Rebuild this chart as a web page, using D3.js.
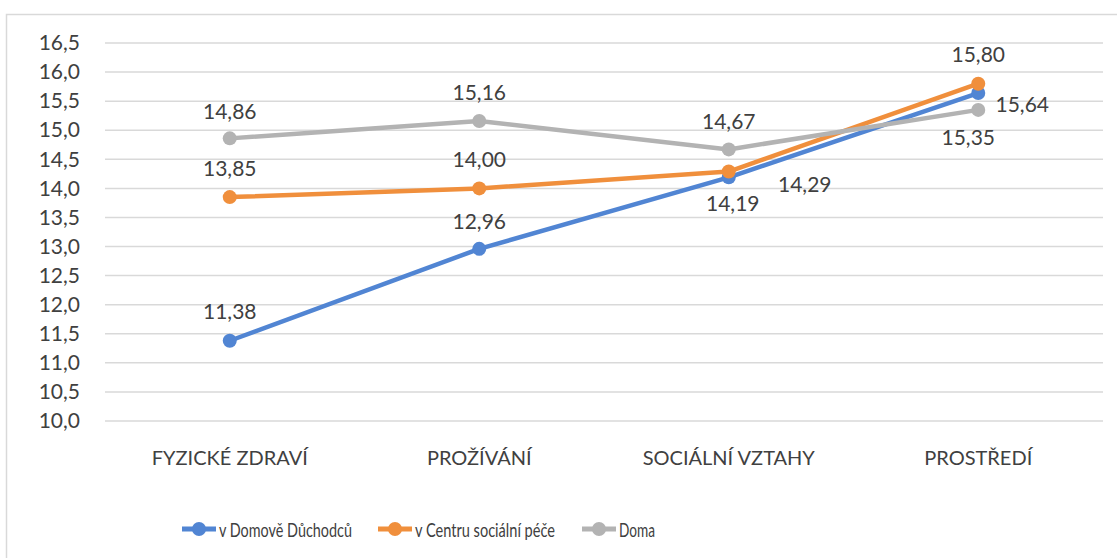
<!DOCTYPE html>
<html>
<head>
<meta charset="utf-8">
<script src="https://cdn.jsdelivr.net/npm/d3@7"></script>
<style>
  body { margin: 0; background: #fff; }
  text { font-family: Lato, "Open Sans", sans-serif; fill: #404040; }
</style>
</head>
<body>
<svg id="chart" width="1117" height="558"></svg>
<script>
// data
var categories = ["FYZICKÉ ZDRAVÍ", "PROŽÍVÁNÍ", "SOCIÁLNÍ VZTAHY", "PROSTŘEDÍ"];
var seriesNames = ["v Domově Důchodců", "v Centru sociální péče", "Doma"];
var domovValues = [11.38, 12.96, 14.19, 15.64];
var centrumValues = [13.85, 14.00, 14.29, 15.80];
var domaValues = [14.86, 15.16, 14.67, 15.35];
var yTicks = [10.0, 10.5, 11.0, 11.5, 12.0, 12.5, 13.0, 13.5, 14.0, 14.5, 15.0, 15.5, 16.0, 16.5];

// label placement per point [dx, dy] (style only)
var domovLabelPos = [[0, -30], [0, -28], [4, 25], [44, 10]];
var centrumLabelPos = [[0, -30], [0, -30], [76, 12], [0, -30]];
var domaLabelPos = [[0, -28], [0, -29], [0, -29], [-10, 27]];

var colors = ["#5185d3", "#f08f3c", "#b3b3b3"];

var svg = d3.select("#chart");

// outer frame
svg.append("rect")
  .attr("x", 6.5).attr("y", 14.5)
  .attr("width", 1130).attr("height", 560)
  .attr("fill", "none")
  .attr("stroke", "#d9d9d9")
  .attr("stroke-width", 1.5);

var x = d3.scaleBand().domain(categories).range([105, 1103]);
var y = d3.scaleLinear().domain([10, 16.5]).range([421, 43]);
var fmt = function(v) { return d3.format(".2f")(v).replace(".", ","); };

// gridlines
svg.append("g")
  .selectAll("line")
  .data(yTicks)
  .enter().append("line")
  .attr("x1", 105).attr("x2", 1103)
  .attr("y1", function(d) { return y(d); })
  .attr("y2", function(d) { return y(d); })
  .attr("stroke", "#d9d9d9")
  .attr("stroke-width", 1.5);

// y axis labels
var yAxis = d3.axisLeft(y).tickValues(yTicks)
  .tickFormat(function(d) { return d3.format(".1f")(d).replace(".", ","); })
  .tickSize(0).tickPadding(0);
var yg = svg.append("g").attr("transform", "translate(80,0)").call(yAxis);
yg.select(".domain").remove();
yg.selectAll("text")
  .attr("font-size", 21)
  .attr("font-family", "Lato, 'Open Sans', sans-serif")
  .attr("fill", "#404040");

// x axis labels
var xAxis = d3.axisBottom(x).tickSize(0).tickPadding(0);
var xg = svg.append("g").attr("transform", "translate(0,451)").call(xAxis);
xg.select(".domain").remove();
xg.selectAll("text")
  .attr("font-size", 20)
  .attr("font-family", "Lato, 'Open Sans', sans-serif")
  .attr("fill", "#404040");

var series = [
  { name: seriesNames[0], values: domovValues, pos: domovLabelPos, color: colors[0] },
  { name: seriesNames[1], values: centrumValues, pos: centrumLabelPos, color: colors[1] },
  { name: seriesNames[2], values: domaValues, pos: domaLabelPos, color: colors[2] }
];

var cx = function(i) { return x(categories[i]) + x.bandwidth() / 2; };

var line = d3.line()
  .x(function(d, i) { return cx(i); })
  .y(function(d) { return y(d); });

series.forEach(function(s) {
  var g = svg.append("g");
  g.append("path")
    .datum(s.values)
    .attr("d", line)
    .attr("fill", "none")
    .attr("stroke", s.color)
    .attr("stroke-width", 4.5)
    .attr("stroke-linejoin", "round");
  g.selectAll("circle")
    .data(s.values)
    .enter().append("circle")
    .attr("cx", function(d, i) { return cx(i); })
    .attr("cy", function(d) { return y(d); })
    .attr("r", 7)
    .attr("fill", s.color);
});

// data labels
series.forEach(function(s) {
  svg.append("g")
    .selectAll("text")
    .data(s.values)
    .enter().append("text")
    .attr("x", function(d, i) { return cx(i) + s.pos[i][0]; })
    .attr("y", function(d, i) { return y(d) + s.pos[i][1]; })
    .attr("text-anchor", "middle")
    .attr("dominant-baseline", "central")
    .attr("font-size", 21)
    .text(function(d) { return fmt(d); });
});

// legend (Calibri-like narrow text, squeezed to the reference widths)
var legendX = [182, 378, 582];
var legendTextW = [133, 140, 36];
var legend = svg.append("g");
series.forEach(function(s, i) {
  var lg = legend.append("g").attr("transform", "translate(" + legendX[i] + ",529)");
  lg.append("line")
    .attr("x1", 0).attr("x2", 34)
    .attr("stroke", s.color).attr("stroke-width", 5);
  lg.append("circle").attr("cx", 17).attr("r", 7).attr("fill", s.color);
  lg.append("text")
    .attr("x", 37)
    .attr("dominant-baseline", "central")
    .attr("font-size", 19)
    .attr("textLength", legendTextW[i])
    .attr("lengthAdjust", "spacingAndGlyphs")
    .text(s.name);
});
</script>
</body>
</html>
